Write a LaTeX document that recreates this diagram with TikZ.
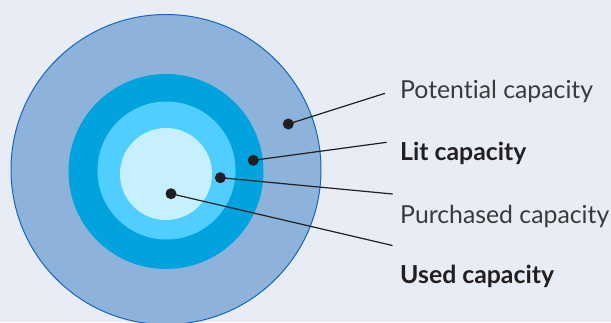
\documentclass[tikz,border=0pt]{standalone}
\usepackage{fontspec}
\setmainfont{Lato}[Ligatures=NoCommon]
\definecolor{bg}{HTML}{E8ECF5}
\definecolor{ringA}{HTML}{8DB3DB}
\definecolor{ringAline}{HTML}{1565C0}
\definecolor{ringB}{HTML}{00A3DE}
\definecolor{ringC}{HTML}{50CEFF}
\definecolor{ringD}{HTML}{C6F0FF}
\definecolor{ink}{HTML}{231F20}
\definecolor{txt}{HTML}{3A3A3A}
\tikzset{
  dot/.style={circle,fill=ink,inner sep=0pt,minimum size=11pt},
  lead/.style={draw=ink,line width=1.2pt},
  lbl/.style={anchor=base west,inner sep=0pt,font=\fontsize{24.8}{28}\selectfont,text=txt},
  lblb/.style={lbl,font=\fontsize{24.8}{28}\selectfont\bfseries,text=ink}
}
\begin{document}
\begin{tikzpicture}[x=1pt,y=-1pt]
\fill[bg] (0,0) rectangle (611,322);
\useasboundingbox (0,0) rectangle (611,322);
\begin{scope}
\clip (0,0) rectangle (611,322);
\filldraw[fill=ringA,draw=ringAline,line width=1pt] (166,169.5) circle (155);
\fill[ringB] (166,171.5) circle (97.5);
\fill[ringC] (166.5,170.5) circle (69);
\fill[ringD] (166,174) circle (46);
\end{scope}
\node[dot] (pot) at (288.3,124) {};
\node[dot] (lit) at (253.3,160.3) {};
\node[dot] (pur) at (220.3,177.7) {};
\node[dot] (use) at (171,193.7) {};
\coordinate (potE) at (385,93.3);
\coordinate (litE) at (386.7,142.3);
\coordinate (purE) at (392.7,194);
\coordinate (useE) at (392.5,245.5);
\draw[lead] (pot.center) -- (potE);
\draw[lead] (lit.center) -- (litE);
\draw[lead] (pur.center) -- (purE);
\draw[lead] (use.center) -- (useE);
\node[lbl] (tpot) at (400,98.3) {Potential capacity};
\node[lblb] (tlit) at (400,160.7) {Lit capacity};
\node[lbl] (tpur) at (400,223) {Purchased capacity};
\node[lblb] (tuse) at (400,283.3) {Used capacity};
\end{tikzpicture}
\end{document}
